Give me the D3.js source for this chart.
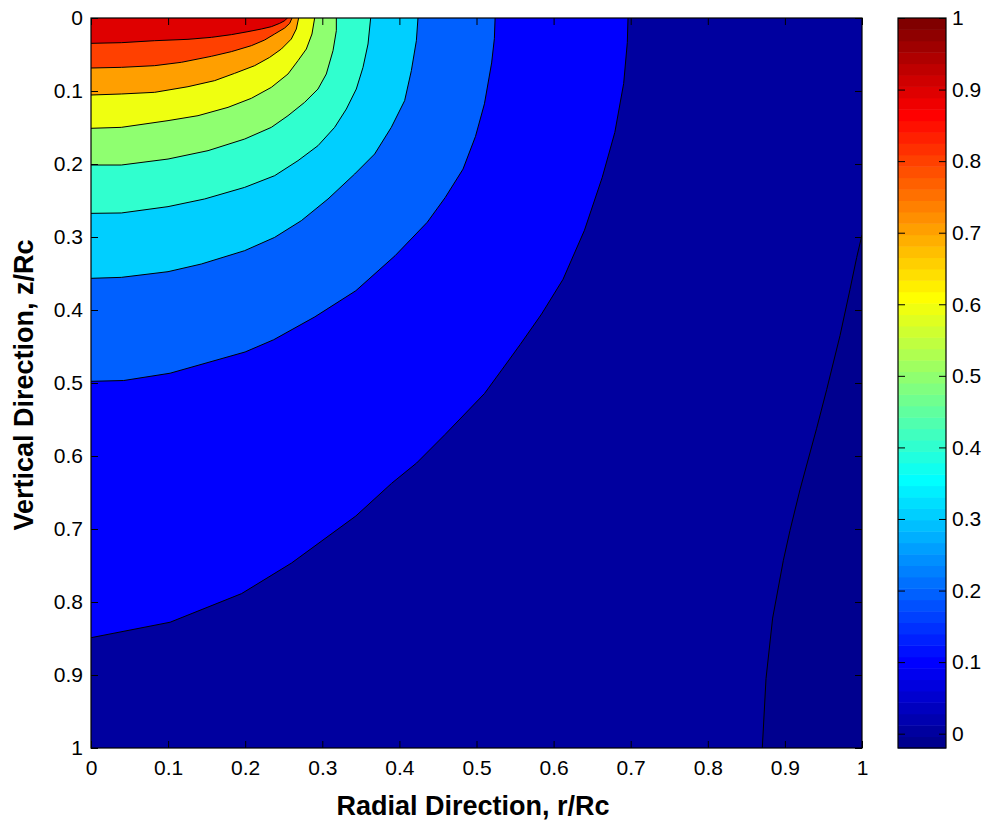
<!DOCTYPE html>
<html lang="en">
<head>
<meta charset="utf-8">
<title>Contour plot</title>
<script src="https://d3js.org/d3.v7.min.js"></script>
<style>
  body { margin: 0; background: #fff; }
  svg text { font-family: Arial, "Liberation Sans", Helvetica, sans-serif; fill: #000; }
  .tick text { font-size: 21px; }
  .tick line { stroke: #000; }
  .label { font-size: 27px; font-weight: bold; }
</style>
</head>
<body>
<svg width="990" height="825"></svg>
<script>
// contour levels and the range of the field (colour limits)
var levels = [0, 0.1, 0.2, 0.3, 0.4, 0.5, 0.6, 0.7, 0.8, 0.9];
var cmin = -0.02, cmax = 1;
var tickValues = [0, 0.1, 0.2, 0.3, 0.4, 0.5, 0.6, 0.7, 0.8, 0.9, 1];
var tickLabels = ["0", "0.1", "0.2", "0.3", "0.4", "0.5", "0.6", "0.7", "0.8", "0.9", "1"];

// contour lines, [r/Rc, z/Rc]
var line00 = [[0.8707,1.0],[0.8755,0.905],[0.8841,0.822],[0.898,0.743],[0.9066,0.702],[0.9196,0.646],
  [0.9412,0.562],[0.9542,0.509],[0.9715,0.435],[0.9844,0.372],[0.9931,0.328],[1.0,0.297]];
var line01 = [[0,0.8489],[0.1026,0.8277],[0.1953,0.7885],[0.2601,0.7466],[0.3435,0.6822],[0.3898,0.6375],
  [0.4223,0.6096],[0.4593,0.5704],[0.5103,0.5145],[0.5335,0.481],[0.5566,0.4474],[0.5844,0.4055],
  [0.6122,0.358],[0.64,0.2908],[0.6631,0.2182],[0.6794,0.1567],[0.6909,0.0896],[0.6956,0.0337],[0.6965,0]];
var line02 = [[0,0.4977],[0.0424,0.4966],[0.1026,0.4866],[0.1999,0.4575],[0.237,0.4407],[0.2903,0.4094],
  [0.3435,0.3736],[0.3945,0.3255],[0.4362,0.2797],[0.4593,0.2461],[0.4825,0.207],[0.4987,0.1622],
  [0.5103,0.1175],[0.5196,0.0616],[0.5232,0.0281],[0.5241,0]];
var line03 = [[0,0.3566],[0.0393,0.3553],[0.0999,0.3475],[0.1431,0.337],[0.1993,0.3187],[0.2382,0.3005],
  [0.2728,0.2776],[0.3074,0.2479],[0.342,0.2137],[0.3679,0.1863],[0.3895,0.1498],[0.4068,0.1132],
  [0.4155,0.0721],[0.422,0.0311],[0.4241,0]];
var line04 = [[0,0.2676],[0.0393,0.2671],[0.0999,0.2584],[0.1474,0.2479],[0.1993,0.232],[0.2382,0.216],
  [0.2685,0.1954],[0.2944,0.1749],[0.316,0.1498],[0.3312,0.1247],[0.3441,0.0973],[0.3528,0.0676],
  [0.3593,0.0356],[0.3627,0]];
var line05 = [[0,0.2014],[0.0393,0.2014],[0.0999,0.1932],[0.1518,0.1817],[0.1993,0.1658],[0.2339,0.1498],
  [0.2555,0.1338],[0.2771,0.1155],[0.2944,0.0973],[0.3052,0.0767],[0.3139,0.0447],[0.3182,0.0174],[0.3182,0]];
var line06 = [[0,0.1511],[0.0393,0.1498],[0.0999,0.1406],[0.1388,0.1338],[0.1777,0.1224],[0.208,0.11],
  [0.2339,0.095],[0.2555,0.0767],[0.2685,0.0584],[0.2793,0.0425],[0.2866,0.0219],[0.2901,0]];
var line07 = [[0,0.1055],[0.0393,0.1041],[0.0826,0.1018],[0.1258,0.0941],[0.1604,0.0858],[0.1863,0.0758],
  [0.2123,0.0653],[0.2317,0.0539],[0.2469,0.0425],[0.2598,0.0288],[0.2663,0.0151],[0.2693,0]];
var line08 = [[0,0.0685],[0.0393,0.0676],[0.0826,0.0653],[0.1172,0.0607],[0.1561,0.0525],[0.182,0.0461],
  [0.208,0.0379],[0.2253,0.0301],[0.2382,0.0219],[0.2512,0.0137],[0.2577,0.0073],[0.2607,0]];
var line09 = [[0,0.0347],[0.0393,0.0338],[0.0826,0.0311],[0.1258,0.0292],[0.1561,0.0265],[0.182,0.0228],
  [0.2036,0.0187],[0.2209,0.0151],[0.2339,0.0119],[0.2447,0.0073],[0.2512,0.0037],[0.2547,0]];
var contourLines = [line00, line01, line02, line03, line04, line05, line06, line07, line08, line09];

// MATLAB style jet colormap with n entries
function jet(n) {
  var m = Math.ceil(n / 4), u = [], i;
  for (i = 1; i <= m; i++) u.push(i / m);
  for (i = 1; i < m; i++) u.push(1);
  for (i = m; i >= 1; i--) u.push(i / m);
  var g0 = Math.ceil(m / 2) - (n % 4 == 1 ? 1 : 0);
  var rgb = d3.range(n).map(function() { return [0, 0, 0]; });
  u.forEach(function(v, k) {
    var gi = g0 + k + 1, ri = gi + m, bi = gi - m;
    if (gi >= 1 && gi <= n) rgb[gi - 1][1] = v;
    if (ri >= 1 && ri <= n) rgb[ri - 1][0] = v;
    if (bi >= 1 && bi <= n) rgb[bi - 1][2] = v;
  });
  return rgb.map(function(c) { return d3.rgb(c[0] * 255, c[1] * 255, c[2] * 255).formatHex(); });
}
var jet64 = jet(64);

var svg = d3.select("svg"),
    margin = {top: 18, right: 128, bottom: 77, left: 91},
    width = 771,
    height = 730;

var x = d3.scaleLinear().domain([0, 1]).range([margin.left, margin.left + width]);
var y = d3.scaleLinear().domain([0, 1]).range([margin.top, margin.top + height]);
var color = d3.scaleQuantize().domain([cmin, cmax]).range(jet64);

svg.append("defs").append("clipPath").attr("id", "plotclip")
  .append("rect").attr("x", x(0)).attr("y", y(0)).attr("width", width).attr("height", height);

var plot = svg.append("g").attr("clip-path", "url(#plotclip)");

var line = d3.line().x(function(d) { return x(d[0]); }).y(function(d) { return y(d[1]); });

// lowest band (0 .. 0.1) as background
plot.append("rect")
  .attr("x", x(0)).attr("y", y(0)).attr("width", width).attr("height", height)
  .attr("fill", color(levels[0]));

// region below zero, to the right of the zero line
plot.append("path")
  .attr("d", line(line00.concat([[1, 1]])) + "Z")
  .attr("fill", color(cmin));

// higher bands, each closed through the top-left corner
levels.forEach(function(lv, i) {
  if (i == 0) return;
  plot.append("path")
    .attr("d", line(contourLines[i].concat([[0, 0]])) + "Z")
    .attr("fill", color(lv));
});

contourLines.forEach(function(c) {
  plot.append("path")
    .attr("d", line(c))
    .attr("fill", "none")
    .attr("stroke", "#000")
    .attr("stroke-width", 1);
});

// axes, ticks pointing inward on all four sides
var fmt = function(d, i) { return tickLabels[i]; };
svg.append("g").attr("transform", "translate(0," + y(1) + ")")
  .call(d3.axisBottom(x).tickValues(tickValues).tickFormat(fmt).tickSize(-7).tickPadding(12));
svg.append("g").attr("transform", "translate(0," + y(0) + ")")
  .call(d3.axisTop(x).tickValues(tickValues).tickFormat("").tickSize(-7));
svg.append("g").attr("transform", "translate(" + x(0) + ",0)")
  .call(d3.axisLeft(y).tickValues(tickValues).tickFormat(fmt).tickSize(-7).tickPadding(8));
svg.append("g").attr("transform", "translate(" + x(1) + ",0)")
  .call(d3.axisRight(y).tickValues(tickValues).tickFormat("").tickSize(-7));
svg.selectAll(".domain").remove();

svg.append("rect")
  .attr("x", x(0)).attr("y", y(0)).attr("width", width).attr("height", height)
  .attr("fill", "none").attr("stroke", "#000").attr("stroke-width", 1.2);

// colorbar
var cbLeft = 898, cbWidth = 48;
var cb = d3.scaleLinear().domain([cmin, cmax]).range([y(1), y(0)]);
var step = (cmax - cmin) / jet64.length;
svg.append("g").selectAll("rect")
  .data(jet64)
  .enter().append("rect")
  .attr("x", cbLeft)
  .attr("y", function(d, i) { return cb(cmin + (i + 1) * step); })
  .attr("width", cbWidth)
  .attr("height", function(d, i) { return cb(cmin + i * step) - cb(cmin + (i + 1) * step) + 0.5; })
  .attr("fill", function(d) { return d; });

svg.append("g").attr("transform", "translate(" + (cbLeft + cbWidth) + ",0)")
  .call(d3.axisRight(cb).tickValues(tickValues).tickFormat(fmt).tickSize(-7).tickPadding(6));
svg.append("g").attr("transform", "translate(" + cbLeft + ",0)")
  .call(d3.axisLeft(cb).tickValues(tickValues).tickFormat("").tickSize(-7));
svg.selectAll(".domain").remove();

svg.append("rect")
  .attr("x", cbLeft).attr("y", y(0)).attr("width", cbWidth).attr("height", height)
  .attr("fill", "none").attr("stroke", "#000").attr("stroke-width", 1.2);

// axis titles
svg.append("text")
  .attr("class", "label")
  .attr("x", 473)
  .attr("y", 815)
  .style("text-anchor", "middle")
  .text("Radial Direction, r/Rc");

svg.append("text")
  .attr("class", "label")
  .attr("transform", "translate(33," + 385 + ") rotate(-90)")
  .style("text-anchor", "middle")
  .text("Vertical Direction, z/Rc");
</script>
</body>
</html>
